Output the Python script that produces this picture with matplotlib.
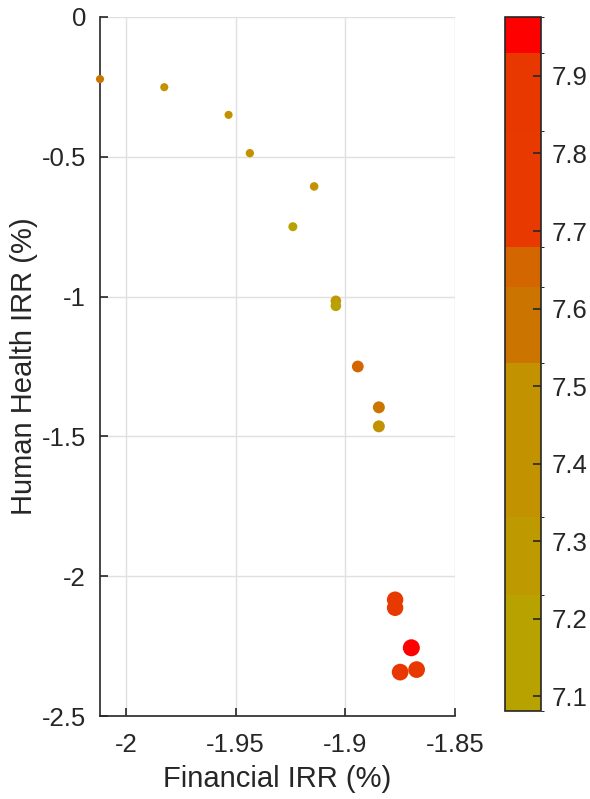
import matplotlib
matplotlib.use("Agg")
import matplotlib.pyplot as plt
import numpy as np
from matplotlib.colors import ListedColormap, BoundaryNorm

plt.rcParams["font.family"] = ["Liberation Sans", "DejaVu Sans"]

# data
financial_irr = [-2.0118, -1.9825, -1.9532, -1.9435, -1.9142, -1.9239, -1.9043, -1.9043,
                 -1.8943, -1.8847, -1.8847, -1.8773, -1.8773, -1.8699, -1.8750, -1.8675]
health_irr = [-0.222, -0.251, -0.350, -0.487, -0.606, -0.750, -1.015, -1.033,
              -1.250, -1.396, -1.464, -2.084, -2.113, -2.256, -2.343, -2.334]
color_value = [7.60, 7.42, 7.38, 7.45, 7.40, 7.15, 7.32, 7.15,
               7.65, 7.58, 7.40, 7.80, 7.80, 7.95, 7.85, 7.85]
marker_size = [34, 34, 34, 36, 38, 42, 58, 58, 72, 74, 74, 140, 140, 150, 145, 145]

band_edges = [7.081, 7.230, 7.331, 7.530, 7.628, 7.679, 7.829, 7.930, 7.976]
band_colors = ["#B8A200", "#BE9A00", "#C29200", "#CC7400", "#D46600", "#E83A00", "#E83800", "#FF0000"]
cbar_ticks = [7.1, 7.2, 7.3, 7.4, 7.5, 7.6, 7.7, 7.8, 7.9]

W, H = 590, 799
fig = plt.figure(figsize=(W / 100, H / 100), dpi=100)
ax = fig.add_axes([100 / W, (H - 716) / H, 355 / W, 699 / H])
cax = fig.add_axes([505 / W, (H - 711) / H, 36 / W, 694 / H])

cmap = ListedColormap(band_colors)
norm = BoundaryNorm(band_edges, cmap.N)

sc = ax.scatter(financial_irr, health_irr, c=color_value, s=marker_size, cmap=cmap, norm=norm,
                linewidths=0, zorder=5, clip_on=False)

ax.set_xlim(-2.0118, -1.85)
ax.set_ylim(-2.5, 0)
ax.set_xticks([-2, -1.95, -1.9, -1.85])
ax.set_xticklabels(["-2", "-1.95", "-1.9", "-1.85"])
ax.set_yticks([-2.5, -2, -1.5, -1, -0.5, 0])
ax.set_yticklabels(["-2.5", "-2", "-1.5", "-1", "-0.5", "0"])
ax.grid(True, color="#e0e0e0", linewidth=1)
ax.set_axisbelow(True)
for side in ["top", "right"]:
    ax.spines[side].set_visible(False)
for side in ["left", "bottom"]:
    ax.spines[side].set_color("#262626")
    ax.spines[side].set_linewidth(1.2)
ax.tick_params(direction="in", length=6, width=1.2, colors="#262626", labelsize=18.5)
ax.tick_params(axis="x", pad=12)
ax.tick_params(axis="y", pad=10)
ax.set_xlabel("Financial IRR (%)", fontsize=21, color="#262626", labelpad=6)
ax.set_ylabel("Human Health IRR (%)", fontsize=21, color="#262626", labelpad=3)

cb = fig.colorbar(sc, cax=cax, spacing="proportional", ticks=cbar_ticks)
cb.outline.set_edgecolor("#262626")
cb.outline.set_linewidth(1.2)
cax.tick_params(direction="in", length=6, width=1.2, colors="#262626", labelsize=18.5, pad=8)
cax.set_yticklabels([f"{t:.1f}" for t in cbar_ticks])

fig.savefig("out.png", dpi=100)
